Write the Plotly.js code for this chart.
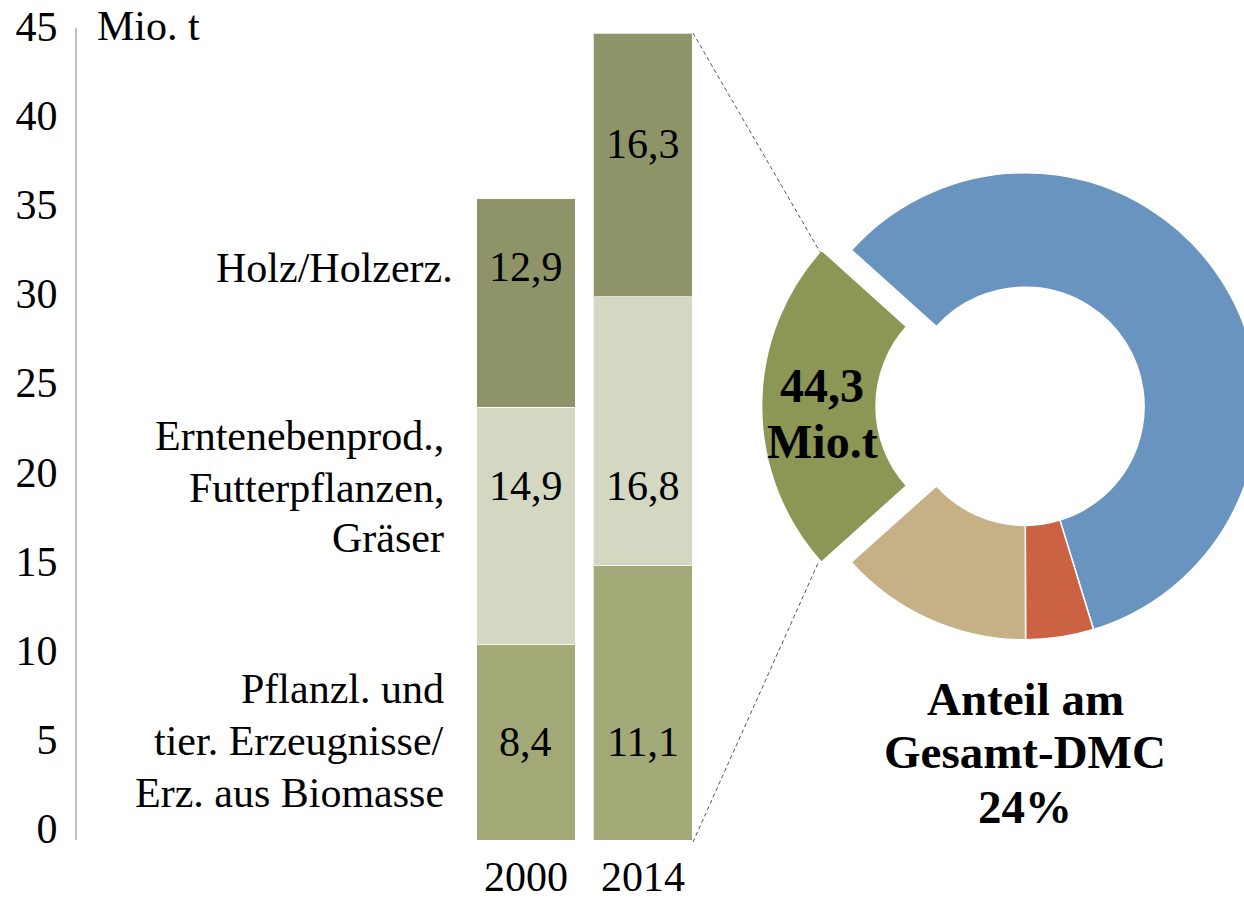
<!DOCTYPE html>
<html>
<head>
<meta charset="utf-8">
<script src="https://cdn.plot.ly/plotly-3.0.1.min.js"></script>
<style>
html,body{margin:0;padding:0;overflow:hidden;background:#fff;}
#chart{width:1290px;height:909px;}
</style>
</head>
<body>
<div id="chart"></div>
<script>
// ---- data ----
const years = ["2000", "2014"];
// bar heights as drawn (Mio. t)
const pflanzlValues = [11.0, 15.4];
const ernteValues = [13.3, 15.1];
const holzValues = [11.7, 14.8];
// value labels printed on the bars
const pflanzlLabels = ["8,4", "11,1"];
const ernteLabels = ["14,9", "16,8"];
const holzLabels = ["12,9", "16,3"];
const categoryLabels = [
  ["Pflanzl. und", "tier. Erzeugnisse/", "Erz. aus Biomasse"],
  ["Erntenebenprod.,", "Futterpflanzen,", "Gräser"],
  ["Holz/Holzerz."]
];
const yTicks = [0, 5, 10, 15, 20, 25, 30, 35, 40, 45];
const unitLabel = "Mio. t";
// DMC shares (%), clockwise starting with biomass
const dmcShares = [23.3, 58.6, 4.7, 13.4];
const biomassLabel = ["44,3", "Mio.t"];
const shareLabel = ["Anteil am", "Gesamt-DMC", "24%"];

// ---- layout helpers ----
const W = 1290, H = 909;
const FONT = "Liberation Serif, Times New Roman, serif";
const px = p => p / W;
const py = p => 1 - p / H;

const barColors = ["#A2A876", "#D4D7C1", "#8F9468"];
const pieColors = ["#8C9655", "#6994C0", "#CC6244", "#C6B186"];

const barLine = {color: "rgba(255,255,255,0.7)", width: 1};
const traces = [
  {type: "bar", x: years, y: pflanzlValues, marker: {color: barColors[0], line: barLine}, hoverinfo: "none"},
  {type: "bar", x: years, y: ernteValues, marker: {color: barColors[1], line: barLine}, hoverinfo: "none"},
  {type: "bar", x: years, y: holzValues, marker: {color: barColors[2], line: barLine}, hoverinfo: "none"},
  {
    type: "pie",
    values: dmcShares,
    marker: {colors: pieColors, line: {color: "#ffffff", width: 1.5}},
    pull: [0.128, 0, 0, 0],
    hole: 0.51,
    sort: false,
    direction: "clockwise",
    rotation: 228.1,
    textinfo: "none",
    hoverinfo: "none",
    domain: {x: [761.6 / W, 1288.4 / W], y: [py(669.7), py(142.9)]}
  }
];

const annotations = [];
// category labels (left of bars)
const catBaselines = [[703, 755, 806.7], [450, 501.7, 551.7], [282.7]];
const catRight = [446, 446, 455];
categoryLabels.forEach((lines, i) => {
  lines.forEach((t, j) => {
    annotations.push({
      text: t, showarrow: false, xref: "paper", yref: "paper",
      x: px(catRight[i]), xanchor: "right",
      y: py(catBaselines[i][j] - 14.2), yanchor: "middle",
      font: {family: FONT, size: 42, color: "#000"}
    });
  });
});
// bar value labels: pixel centre rows per bar
const labelRows = [[742, 742], [486, 486], [267, 143.5]];
[pflanzlLabels, ernteLabels, holzLabels].forEach((labels, i) => {
  labels.forEach((t, j) => {
    annotations.push({
      text: t, showarrow: false, xref: "x", yref: "paper",
      x: j, xanchor: "center",
      y: py(labelRows[i][j]), yanchor: "middle",
      font: {family: FONT, size: 42, color: "#000"}
    });
  });
});
// unit
annotations.push({
  text: unitLabel, showarrow: false, xref: "paper", yref: "paper",
  x: px(95), xanchor: "left", y: py(40 - 14.2), yanchor: "middle",
  font: {family: FONT, size: 42, color: "#000"}
});
// biomass total on green slice
const bioBase = [401.7, 458];
biomassLabel.forEach((t, j) => {
  annotations.push({
    text: "<b>" + t + "</b>", showarrow: false, xref: "paper", yref: "paper",
    x: px(822), xanchor: "center", y: py(bioBase[j] - 16.2), yanchor: "middle",
    font: {family: FONT, size: 48, color: "#000"}
  });
});
// share text under the donut
const shareBase = [715, 768, 823];
shareLabel.forEach((t, j) => {
  annotations.push({
    text: "<b>" + t + "</b>", showarrow: false, xref: "paper", yref: "paper",
    x: px(1025), xanchor: "center", y: py(shareBase[j] - 15.9), yanchor: "middle",
    font: {family: FONT, size: 47, color: "#000"}
  });
});

const dashLine = {color: "#555555", width: 1, dash: "4px,3px"};
const shapes = [
  {type: "line", xref: "paper", yref: "paper", x0: px(693), y0: py(33), x1: px(820), y1: py(252), line: dashLine},
  {type: "line", xref: "paper", yref: "paper", x0: px(693), y0: py(842), x1: px(819), y1: py(561), line: dashLine}
];

const layout = {
  width: W, height: H,
  margin: {l: 0, r: 0, t: 0, b: 0},
  paper_bgcolor: "#ffffff", plot_bgcolor: "rgba(0,0,0,0)",
  showlegend: false,
  barmode: "stack",
  bargap: 0.154,
  font: {family: FONT, size: 42, color: "#000"},
  xaxis: {
    type: "category", domain: [77 / W, 701 / W], range: [-3.838, 1.496],
    showline: false, showgrid: false, zeroline: false, ticks: "",
    tickfont: {family: FONT, size: 42, color: "#000"},
    ticklabelstandoff: 8, fixedrange: true
  },
  yaxis: {
    domain: [py(840), py(27.9)], range: [0, 45.6],
    tickvals: yTicks, ticktext: yTicks.map(String),
    showline: true, linecolor: "#BFBFBF", linewidth: 2,
    showgrid: false, zeroline: false, ticks: "",
    tickfont: {family: FONT, size: 42, color: "#000"},
    ticklabelshift: -12, ticklabelstandoff: 9, fixedrange: true
  },
  annotations: annotations,
  shapes: shapes
};

Plotly.newPlot("chart", traces, layout, {displayModeBar: false, staticPlot: true});
</script>
</body>
</html>
